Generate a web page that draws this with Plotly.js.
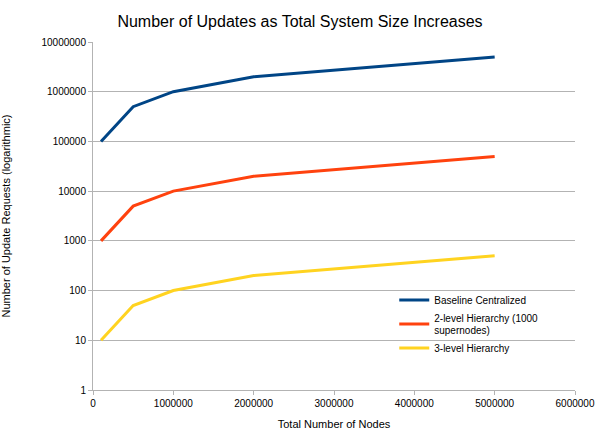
<!DOCTYPE html>
<html>
<head>
<meta charset="utf-8">
<script src="https://cdn.plot.ly/plotly-3.0.1.min.js"></script>
<style>html,body{margin:0;padding:0;background:#fff}</style>
</head>
<body>
<div id="chart" style="width:600px;height:444px"></div>
<script>
const nodes = [100000, 500000, 1000000, 2000000, 5000000];
const baseline = [100000, 500000, 1000000, 2000000, 5000000];
const twoLevel = [1000, 5000, 10000, 20000, 50000];
const threeLevel = [10, 50, 100, 200, 500];
const yTicks = [1, 10, 100, 1000, 10000, 100000, 1000000, 10000000];
const xTicks = [0, 1000000, 2000000, 3000000, 4000000, 5000000, 6000000];

const series = [
  { name: 'Baseline Centralized', y: baseline, color: '#004586' },
  { name: '2-level Hierarchy (1000<br>supernodes)', y: twoLevel, color: '#ff420e' },
  { name: '3-level Hierarchy', y: threeLevel, color: '#ffd320' },
];

const traces = series.map(s => ({
  x: nodes, y: s.y,
  type: 'scatter', mode: 'lines',
  name: s.name,
  line: { color: s.color, width: 3 },
}));

Plotly.newPlot('chart', traces, {
  width: 600, height: 444,
  font: { family: 'Liberation Sans, Arial, sans-serif', size: 10, color: '#000' },
  title: { text: 'Number of Updates as Total System Size Increases', font: { size: 16 }, x: 0.5, y: 0.965 },
  xaxis: {
    range: [0, 6000000], tickvals: xTicks, ticktext: xTicks.map(String),
    showgrid: false, showline: true, linecolor: '#b3b3b3', zeroline: false,
    ticks: 'outside', ticklen: 4, tickcolor: '#b3b3b3',
    title: { text: 'Total Number of Nodes', font: { size: 11 }, standoff: 12 },
  },
  yaxis: {
    type: 'log', range: [0, 7], tickvals: yTicks, ticktext: yTicks.map(String),
    showgrid: true, gridcolor: '#b3b3b3', showline: true, linecolor: '#b3b3b3', zeroline: false,
    ticks: 'outside', ticklen: 4, tickcolor: '#b3b3b3',
    title: { text: 'Number of Update Requests (logarithmic)', font: { size: 11 }, standoff: 28 },
  },
  legend: { x: 0.625, y: 0.3, xanchor: 'left', yanchor: 'top', bgcolor: 'rgba(0,0,0,0)', font: { size: 10 }, tracegroupgap: 0, itemwidth: 30 },
  margin: { l: 93, r: 25, t: 42, b: 54 },
  showlegend: true,
}, { displayModeBar: false, staticPlot: true });
</script>
</body>
</html>
